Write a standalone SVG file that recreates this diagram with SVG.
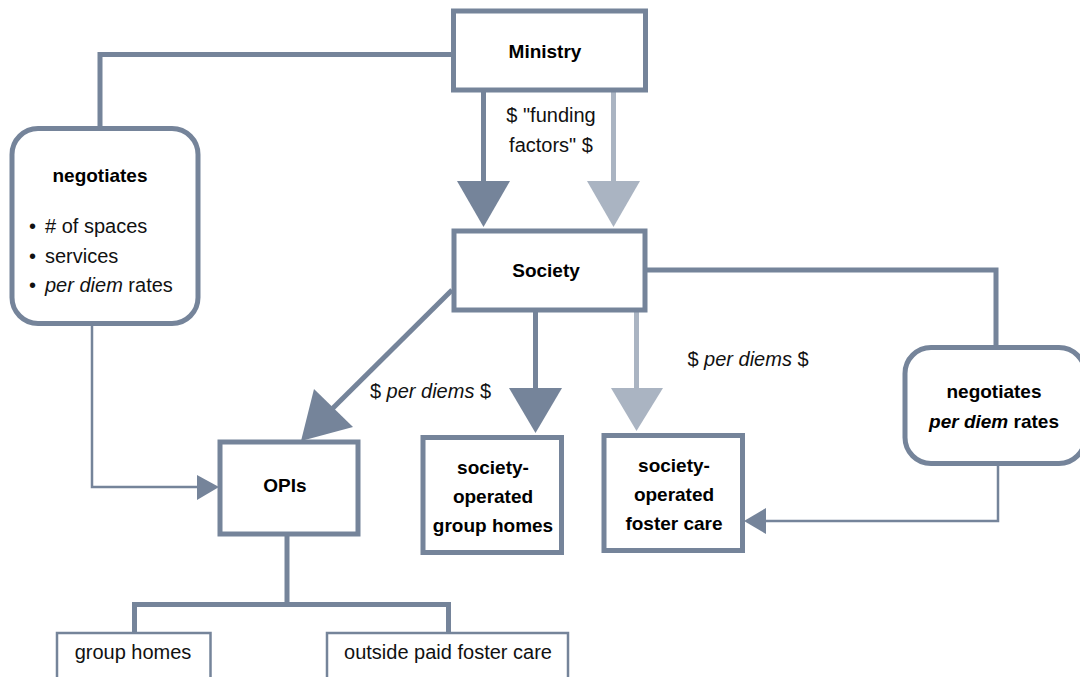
<svg xmlns="http://www.w3.org/2000/svg" width="1080" height="677" viewBox="0 0 1080 677">
<style>
.box{fill:#fff;stroke:#75849a;stroke-width:5}
.sbox{fill:#fff;stroke:#75849a;stroke-width:2.5}
.ln{fill:none;stroke:#75849a;stroke-width:5}
.lnl{fill:none;stroke:#aab4c2;stroke-width:5}
.thin{fill:none;stroke:#75849a;stroke-width:2.5}
.hd{fill:#75849a}
.hdl{fill:#aab4c2}
.b{font-family:"Liberation Sans",Arial,sans-serif;font-weight:bold;font-size:19px;fill:#000;text-anchor:middle}
.r{font-family:"Liberation Sans",Arial,sans-serif;font-size:20px;fill:#111;text-anchor:middle}
.rs{font-family:"Liberation Sans",Arial,sans-serif;font-size:20px;fill:#111}
</style>
<rect width="1080" height="677" fill="#fff"/>
<g id="connectors">
<polyline class="ln" points="453,54.5 100,54.5 100,129"/>
<polyline class="thin" points="92,323 92,487 200,487"/>
<polygon class="hd" points="219,487 197,475 197,500"/>
<line class="ln" x1="483.5" y1="90" x2="483.5" y2="183"/>
<polygon class="hd" points="457,181 510,181 483.5,227"/>
<line class="lnl" x1="613.5" y1="90" x2="613.5" y2="183"/>
<polygon class="hdl" points="587,181 640,181 613.5,227"/>
<polyline class="ln" points="645,270 996,270 996,348"/>
<polyline class="thin" points="998,463 998,521 762,521"/>
<polygon class="hd" points="744,521 766,508 766,534"/>
<line class="ln" x1="452" y1="290" x2="330" y2="411"/>
<polygon class="hd" points="301,441 314,389 353,427"/>
<line class="ln" x1="535.5" y1="310" x2="535.5" y2="390"/>
<polygon class="hd" points="509,388 562,388 535.5,433"/>
<line class="lnl" x1="636.5" y1="310" x2="636.5" y2="390"/>
<polygon class="hdl" points="611,388 663,388 636.5,431"/>
<line class="ln" x1="287" y1="534" x2="287" y2="604.5"/>
<polyline class="ln" points="134.5,634 134.5,604.5 448.5,604.5 448.5,634"/>
</g>
<g id="ministry">
<rect class="box" x="453.5" y="11" width="192" height="79"/>
<text class="b" x="545" y="58">Ministry</text>
</g>
<g id="funding-label">
<text class="r" x="551" y="122">$ "funding</text>
<text class="r" x="551" y="152">factors" $</text>
</g>
<g id="negotiates-left">
<rect class="box" x="12" y="128.5" width="186" height="195" rx="26"/>
<text class="b" x="100" y="182">negotiates</text>
<text class="rs" x="29" y="233">•</text>
<text class="rs" x="45" y="233"># of spaces</text>
<text class="rs" x="29" y="263">•</text>
<text class="rs" x="45" y="263">services</text>
<text class="rs" x="29" y="292">•</text>
<text class="rs" x="45" y="292"><tspan font-style="italic">per diem</tspan> rates</text>
</g>
<g id="society">
<rect class="box" x="454" y="231" width="191" height="79"/>
<text class="b" x="546" y="277">Society</text>
</g>
<g id="per-diems-left">
<text class="r" x="430.5" y="398">$ <tspan font-style="italic">per diems</tspan> $</text>
</g>
<g id="per-diems-right">
<text class="r" x="748" y="366">$ <tspan font-style="italic">per diems</tspan> $</text>
</g>
<g id="negotiates-right">
<rect class="box" x="905" y="347.5" width="180" height="116" rx="26"/>
<text class="b" x="994" y="398">negotiates</text>
<text class="b" x="994" y="428"><tspan font-style="italic">per diem</tspan> rates</text>
</g>
<g id="opis">
<rect class="box" x="220" y="442" width="138" height="92"/>
<text class="b" x="285" y="492">OPIs</text>
</g>
<g id="society-group-homes">
<rect class="box" x="423" y="437.5" width="138.5" height="115"/>
<text class="b" x="493" y="474">society-</text>
<text class="b" x="493" y="503">operated</text>
<text class="b" x="493" y="532">group homes</text>
</g>
<g id="society-foster-care">
<rect class="box" x="604" y="435.5" width="138.5" height="115"/>
<text class="b" x="674" y="472">society-</text>
<text class="b" x="674" y="501">operated</text>
<text class="b" x="674" y="530">foster care</text>
</g>
<g id="group-homes">
<rect class="sbox" x="57" y="633" width="153.5" height="60"/>
<text class="r" x="133" y="659">group homes</text>
</g>
<g id="outside-paid-foster-care">
<rect class="sbox" x="327" y="633" width="241" height="60"/>
<text class="r" x="448" y="659">outside paid foster care</text>
</g>
</svg>
